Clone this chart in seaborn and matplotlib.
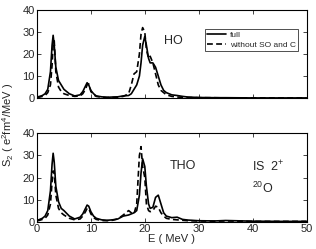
import numpy as np
import seaborn as sns
import matplotlib.pyplot as plt
import pandas as pd

# excitation energy grid (MeV)
energy = [0, 0.5, 1, 1.5, 2, 2.5, 2.8, 3.0, 3.2, 3.5, 4, 4.5, 5, 6, 7, 8, 8.5, 9, 9.3, 9.6,
          10, 10.5, 11, 12, 13, 14, 15, 16, 17, 17.5, 18, 18.5, 19, 19.3, 19.6, 20, 20.3,
          20.7, 21, 21.5, 22, 22.5, 23, 23.5, 24, 25, 26, 27, 28, 30, 33, 35, 40, 45, 50]

ho_full = [0.5, 0.8, 1.2, 2, 4, 12, 24, 28.5, 24, 14, 8, 6, 4, 2, 1, 1.5, 3, 5.5, 7, 6,
           3.5, 2, 1, 0.6, 0.4, 0.5, 0.6, 1, 1.2, 2, 4, 6, 10, 16, 24, 28, 24,
           18, 16, 16, 14, 10, 6, 3.5, 2.5, 1.5, 1.2, 0.8, 0.5, 0.3, 0.2, 0.2, 0.1, 0.1, 0.1]
ho_noso = [0.3, 0.5, 0.8, 1.2, 2.5, 6, 15, 24, 26, 12, 5, 3, 2, 1.2, 0.8, 1, 2, 4, 6, 6.5,
           3, 1.5, 0.8, 0.4, 0.3, 0.3, 0.4, 0.8, 2, 6, 11, 12, 20, 29, 32, 30, 22,
           18, 19, 16, 11, 6, 3.5, 2.5, 1.5, 0.8, 0.5, 0.4, 0.3, 0.2, 0.2, 0.1, 0.1, 0.1, 0.1]

tho_full = [0.5, 1, 1.5, 2.5, 5, 14, 26, 31, 27, 16, 9, 6, 5, 2.5, 1.2, 2, 3.5, 6, 7.5, 7,
            4.5, 2.5, 1.5, 0.8, 0.6, 0.8, 1.2, 2.5, 3, 3.5, 4, 5, 12, 22, 28.5, 25, 16,
            8, 6, 6.5, 11, 12, 8, 4, 2.5, 1.8, 2, 1, 0.7, 0.4, 0.3, 0.5, 0.2, 0.1, 0.1]
tho_noso = [0.3, 0.6, 1, 1.5, 3, 8, 18, 23, 22, 12, 6, 4, 3, 1.5, 0.8, 1.2, 2.5, 4.5, 6, 6,
            3.5, 1.8, 1, 0.5, 0.4, 0.6, 1.2, 3, 5, 4, 3.5, 8, 30, 34, 25, 20, 8,
            5, 4.5, 5, 7, 6.5, 4, 2.5, 1.5, 1, 0.8, 0.6, 0.4, 0.3, 0.2, 0.3, 0.1, 0.1, 0.1]

sns.set_style("ticks")
plt.rcParams['font.family'] = ['Liberation Sans', 'DejaVu Sans']
plt.rcParams['mathtext.fontset'] = 'custom'
plt.rcParams['mathtext.rm'] = 'Liberation Sans'
plt.rcParams['mathtext.it'] = 'Liberation Sans'

fig, (ax1, ax2) = plt.subplots(2, 1, figsize=(3.16, 2.49), dpi=100)
fig.subplots_adjust(left=0.117, right=0.97, top=0.96, bottom=0.11, hspace=0.40)

panels = [(ax1, ho_full, ho_noso), (ax2, tho_full, tho_noso)]
for ax, full, noso in panels:
    df = pd.DataFrame({'E': energy + energy,
                       'S2': full + noso,
                       'kind': ['full'] * len(energy) + ['without SO and C'] * len(energy)})
    sns.lineplot(data=df, x='E', y='S2', style='kind', color='black', lw=1.2,
                 dashes={'full': '', 'without SO and C': (3.5, 2)}, ax=ax, legend=(ax is ax1))
    ax.set_xlim(0, 50)
    ax.set_ylim(0, 40)
    ax.set_xticks([0, 10, 20, 30, 40, 50])
    ax.set_yticks([0, 10, 20, 30, 40])
    ax.tick_params(direction='in', top=True, right=True, labelsize=8, length=3, width=0.6, pad=1.5)
    for sp in ax.spines.values():
        sp.set_linewidth(0.8)
        sp.set_color('black')
    ax.set_xlabel('')
    ax.set_ylabel('')

ax1.set_xticklabels([])
leg = ax1.legend(loc='upper right', bbox_to_anchor=(0.985, 0.835), fontsize=6, frameon=True,
                 fancybox=False, edgecolor='black', handlelength=2.2, borderpad=0.3,
                 labelspacing=0.2, handletextpad=0.5)
leg.get_frame().set_linewidth(0.6)
ax1.text(25.3, 26, 'HO', fontsize=9, ha='center', va='center')

ax2.text(27, 25, 'THO', fontsize=9, ha='center', va='center')
ax2.text(39.8, 25, 'IS  2$^{+}$', fontsize=9, ha='left', va='center')
ax2.text(39.8, 15, '$^{20}$O', fontsize=9, ha='left', va='center')
ax2.set_xlabel('E ( MeV )', fontsize=8, labelpad=0)

fig.text(0.025, 0.5, 'S$_2$ ( e$^2$fm$^4$/MeV )', rotation=90, fontsize=8, ha='center', va='center')

fig.savefig('out.png', dpi=100)
